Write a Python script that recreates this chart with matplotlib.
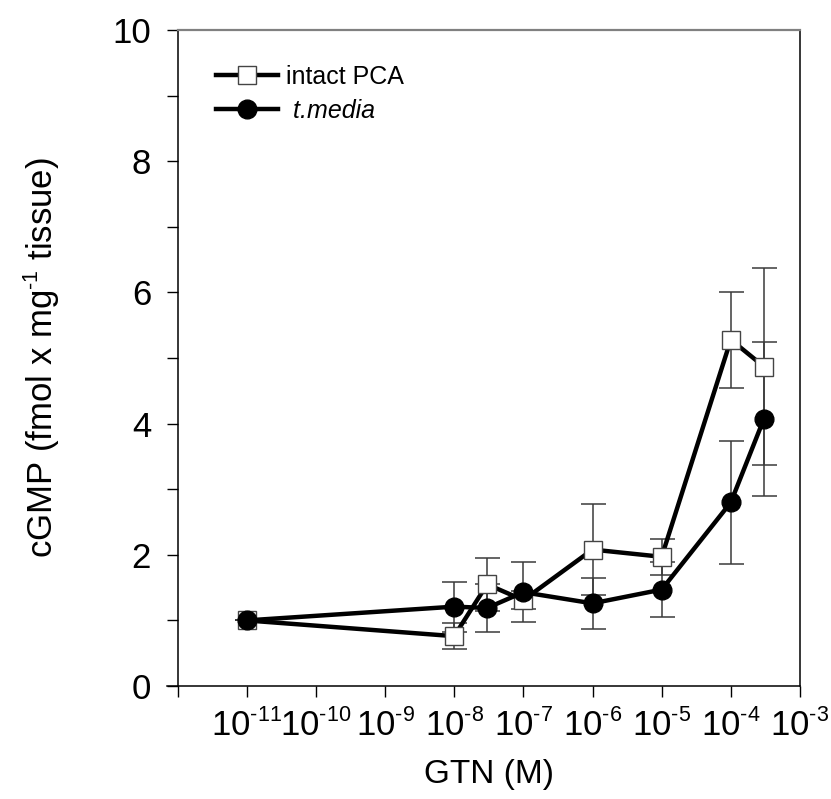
import matplotlib
matplotlib.use("Agg")
import matplotlib.pyplot as plt
import matplotlib._mathtext as mathtext_impl
from matplotlib.ticker import FixedLocator, MultipleLocator, NullLocator

plt.rcParams['font.family'] = ['Liberation Sans', 'DejaVu Sans']
plt.rcParams['mathtext.fontset'] = 'custom'
plt.rcParams['mathtext.rm'] = 'Liberation Sans'
plt.rcParams['mathtext.it'] = 'Liberation Sans:italic'
# smaller exponents than the mathtext default
mathtext_impl.SHRINK_FACTOR = 0.62

HYPHEN = '\u2010'

# GTN concentration (M)
gtn = [1e-11, 1e-8, 3e-8, 1e-7, 1e-6, 1e-5, 1e-4, 3e-4]

# cGMP, fmol x mg-1 tissue
intact_mean = [1.00, 0.76, 1.55, 1.31, 2.08, 1.97, 5.28, 4.87]
intact_err = [0.00, 0.20, 0.40, 0.14, 0.69, 0.27, 0.73, 1.50]
media_mean = [1.00, 1.21, 1.19, 1.43, 1.26, 1.47, 2.80, 4.07]
media_err = [0.00, 0.38, 0.36, 0.46, 0.39, 0.42, 0.94, 1.17]

decades = list(range(-12, -2))

fig = plt.figure(figsize=(8.31, 7.99), dpi=100)
ax = fig.add_axes([0.2136, 0.1414, 0.7491, 0.821])

ax.errorbar(gtn, intact_mean, yerr=intact_err, fmt='none', ecolor='#3a3a3a',
            elinewidth=1.1, capsize=9, capthick=1.1, zorder=2)
ax.errorbar(gtn, media_mean, yerr=media_err, fmt='none', ecolor='#3a3a3a',
            elinewidth=1.1, capsize=9, capthick=1.1, zorder=2)
ax.plot(gtn, intact_mean, color='black', lw=3.2, marker='s', ms=13,
        mfc='white', mec='#444444', mew=1.0, label='intact PCA', zorder=3)
ax.plot(gtn, media_mean, color='black', lw=3.2, marker='o', ms=13.5,
        mfc='black', mec='black', label=' t.media', zorder=4)

ax.set_xscale('log')
ax.set_xlim(1e-12, 1e-3)
ax.set_ylim(0, 10)

ax.xaxis.set_major_locator(FixedLocator([10.0 ** d for d in decades]))
ax.xaxis.set_minor_locator(NullLocator())
ax.set_xticklabels([''] + ['$\\mathregular{10^{%s%d}}$' % (HYPHEN, -d)
                           for d in decades[1:]])
ax.yaxis.set_major_locator(MultipleLocator(2))
ax.yaxis.set_minor_locator(MultipleLocator(1))

ax.tick_params(axis='both', which='both', direction='out', length=8,
               width=1.0, color='black')
ax.tick_params(axis='y', which='major', labelsize=25, pad=11)
ax.tick_params(axis='x', which='major', labelsize=25, pad=9)

for side in ['left', 'right', 'bottom']:
    ax.spines[side].set_color('black')
    ax.spines[side].set_linewidth(1.1)
ax.spines['top'].set_color('#808080')
ax.spines['top'].set_linewidth(1.6)
ax.spines['bottom'].set_bounds(10 ** -12.15, 1e-3)

ax.set_xlabel('GTN (M)', fontsize=24, labelpad=12)
ax.set_ylabel('cGMP (fmol x mg$^{%s1}$ tissue)' % HYPHEN, fontsize=25, labelpad=36)

leg = ax.legend(loc='upper left', bbox_to_anchor=(0.045, 0.962), frameon=False,
                fontsize=18, handlelength=2.5, handletextpad=0.3,
                labelspacing=0.4, borderaxespad=0, numpoints=1)
leg.get_texts()[1].set_style('italic')

fig.savefig('out.png', dpi=100)
